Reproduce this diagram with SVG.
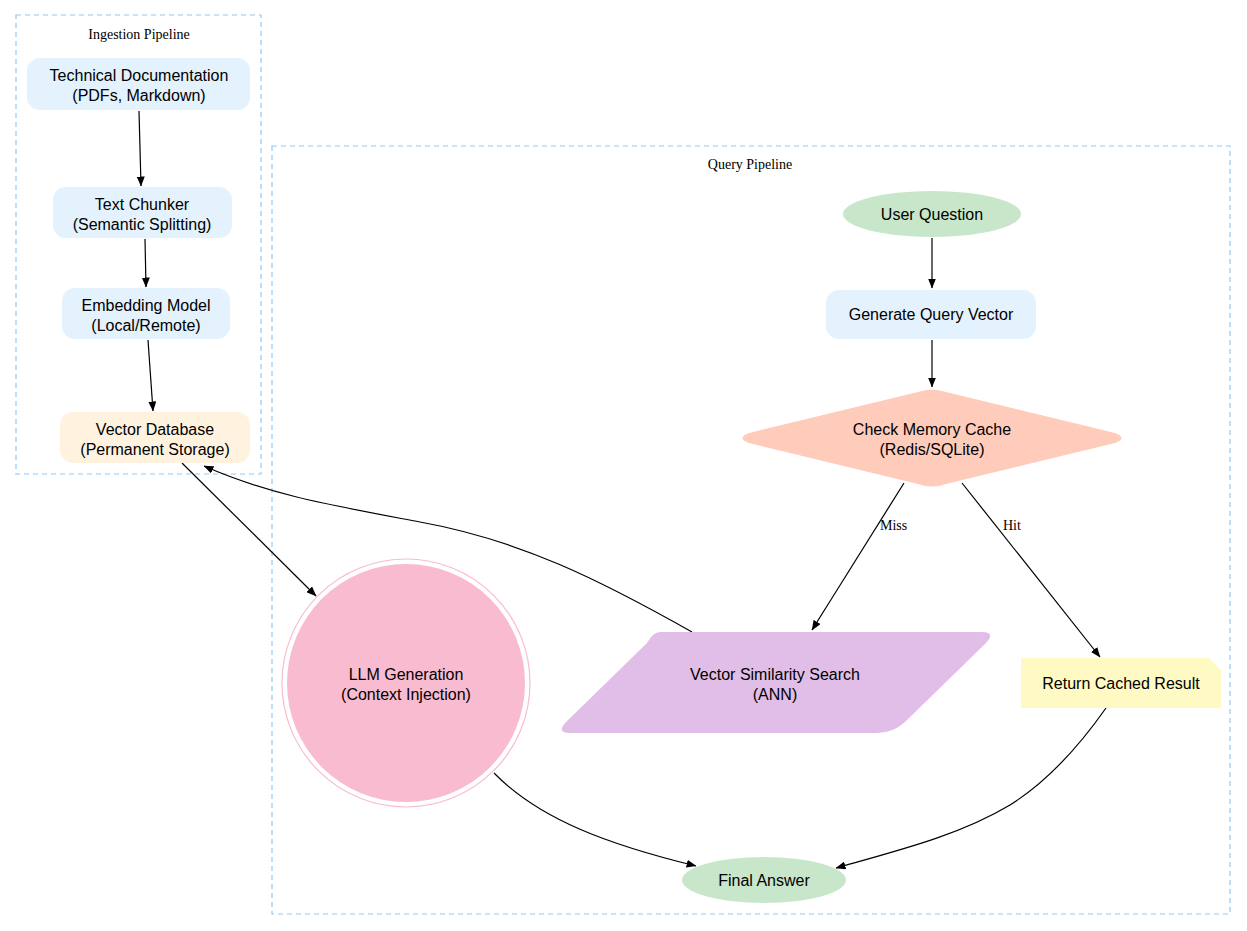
<svg xmlns="http://www.w3.org/2000/svg" width="1247" height="931" viewBox="0 0 1247 931">
<style>
.cl{fill:none;stroke:#90caf9;stroke-dasharray:5,4;stroke-width:1.2}
.ct{font-family:"Liberation Serif",serif;font-size:14px;text-anchor:middle}
.t{font-family:"Liberation Sans",Arial,sans-serif;font-size:16px;text-anchor:middle}
.e{fill:none;stroke:#000;stroke-width:1.2;marker-end:url(#a)}
.el{font-family:"Liberation Serif",serif;font-size:14px}
</style>
<defs><marker id="a" markerWidth="10" markerHeight="8" refX="9.5" refY="4" orient="auto" markerUnits="userSpaceOnUse"><path d="M0,0L10,4L0,8z" fill="#000"/></marker></defs>
<rect width="1247" height="931" fill="#fff"/>
<g id="clusters">
<rect class="cl" x="16" y="15" width="245" height="459"/>
<text class="ct" x="139" y="39">Ingestion Pipeline</text>
<rect class="cl" x="272" y="146" width="958" height="768"/>
<text class="ct" x="750" y="169">Query Pipeline</text>
</g>
<g id="connectors">
<path class="e" d="M139,111L141,186"/>
<path class="e" d="M145,239L146,287"/>
<path class="e" d="M148,340L153,411"/>
<path class="e" d="M182,463L316,596"/>
<path class="e" d="M692,632C600,580 520,540 420,522C330,505 270,495 204,466"/>
<path class="e" d="M932,238L932,288"/>
<path class="e" d="M932,340L932,387"/>
<path class="e" d="M904,483L812,630"/>
<text class="el" x="880" y="530">Miss</text>
<path class="e" d="M962,483L1100,657"/>
<text class="el" x="1003" y="530">Hit</text>
<path class="e" d="M494,773C540,820 610,845 696,866"/>
<path class="e" d="M1106,708C1080,745 1050,780 1010,805C960,835 900,850 836,868"/>
</g>
<g id="techdoc"><rect x="27" y="58" width="223" height="52" rx="13" fill="#e3f2fd"/><text class="t" x="139" y="81">Technical Documentation</text><text class="t" x="139" y="101">(PDFs, Markdown)</text></g>
<g id="chunker"><rect x="53" y="187" width="179" height="51" rx="13" fill="#e3f2fd"/><text class="t" x="142" y="210">Text Chunker</text><text class="t" x="142" y="230">(Semantic Splitting)</text></g>
<g id="embed"><rect x="62" y="288" width="168" height="51" rx="13" fill="#e3f2fd"/><text class="t" x="146" y="311">Embedding Model</text><text class="t" x="146" y="331">(Local/Remote)</text></g>
<g id="vectordb"><rect x="60" y="412" width="190" height="51" rx="13" fill="#fff3e0"/><text class="t" x="155" y="435">Vector Database</text><text class="t" x="155" y="455">(Permanent Storage)</text></g>
<g id="userq"><ellipse cx="932" cy="214" rx="89" ry="23" fill="#c8e6c9"/><text class="t" x="932" y="220">User Question</text></g>
<g id="genvec"><rect x="826" y="290" width="210" height="49" rx="13" fill="#e3f2fd"/><text class="t" x="931" y="320">Generate Query Vector</text></g>
<g id="cache"><path d="M918,392Q932,387 946,392L1115,433Q1128,438 1115,443L946,484Q932,489 918,484L749,443Q736,438 749,433Z" fill="#ffccbc"/><text class="t" x="932" y="435">Check Memory Cache</text><text class="t" x="932" y="455">(Redis/SQLite)</text></g>
<g id="vss"><path d="M660,632L982,632Q996,632 986,643L905,722Q893,733 877,733L570,733Q556,733 566,722L647,643Q653,632 660,632Z" fill="#e1bee7"/><text class="t" x="775" y="680">Vector Similarity Search</text><text class="t" x="775" y="700">(ANN)</text></g>
<g id="cached"><path d="M1021,658L1209,658L1221,670L1221,708L1021,708Z" fill="#fff9c4"/><path d="M1209,658L1209,670L1221,670" fill="none" stroke="#fff9c4"/><text class="t" x="1121" y="689">Return Cached Result</text></g>
<g id="llm"><circle cx="406" cy="683" r="124" fill="none" stroke="#f8bbd0" stroke-width="1.2"/><circle cx="406" cy="683" r="119" fill="#f8bbd0"/><text class="t" x="406" y="680">LLM Generation</text><text class="t" x="406" y="700">(Context Injection)</text></g>
<g id="final"><ellipse cx="764" cy="880" rx="82" ry="23" fill="#c8e6c9"/><text class="t" x="764" y="886">Final Answer</text></g>
</svg>
